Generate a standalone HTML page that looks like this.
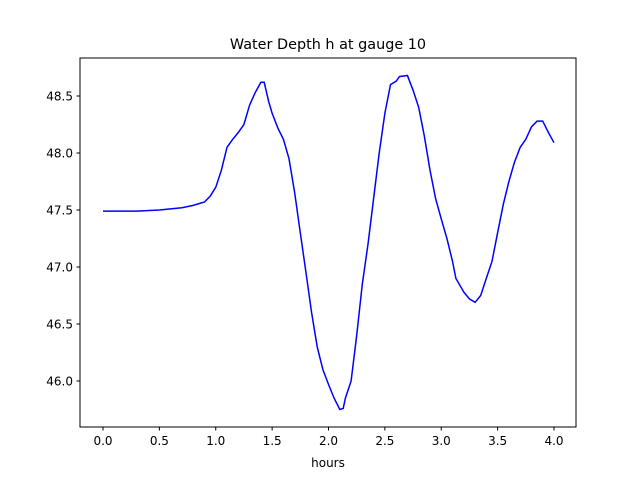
<!DOCTYPE html>
<html><head><meta charset="utf-8"><style>
body{margin:0;background:#fff}
svg{display:block;font-family:"DejaVu Sans","Liberation Sans",sans-serif}
</style></head><body>
<svg id="chart" width="640" height="480">
<rect width="640" height="480" fill="#fff"/>
<text x="328" y="49" text-anchor="middle" font-size="14.4">Water Depth h at gauge 10</text>
<g id="xt"></g>
<g id="yt"></g>
<path id="line" fill="none" stroke="#0000ff" stroke-width="1.5"/>
<rect x="80" y="58" width="496" height="369" fill="none" stroke="#000" stroke-width="1"/>
<text x="328" y="467" text-anchor="middle" font-size="12">hours</text>
</svg>
<script>
const hours=[0,0.3,0.5,0.7,0.8,0.9,0.95,1.0,1.05,1.1,1.15,1.2,1.25,1.3,1.35,1.4,1.43,1.47,1.5,1.55,1.6,1.65,1.7,1.75,1.8,1.85,1.9,1.95,2.0,2.05,2.1,2.13,2.15,2.2,2.25,2.3,2.35,2.4,2.45,2.5,2.55,2.6,2.63,2.7,2.75,2.8,2.85,2.9,2.95,3.0,3.05,3.1,3.13,3.2,3.25,3.3,3.35,3.4,3.45,3.5,3.55,3.6,3.65,3.7,3.75,3.8,3.85,3.9,3.95,4.0];
const depth=[47.49,47.49,47.50,47.52,47.54,47.57,47.62,47.70,47.85,48.05,48.12,48.18,48.25,48.42,48.53,48.62,48.62,48.45,48.35,48.22,48.12,47.95,47.65,47.3,46.95,46.6,46.3,46.1,45.97,45.85,45.75,45.76,45.85,46.0,46.4,46.85,47.2,47.6,48.0,48.35,48.6,48.63,48.67,48.68,48.55,48.4,48.15,47.85,47.6,47.42,47.25,47.05,46.9,46.78,46.72,46.69,46.75,46.9,47.05,47.3,47.55,47.75,47.92,48.05,48.12,48.23,48.28,48.28,48.18,48.09];
const xTicks=["0.0","0.5","1.0","1.5","2.0","2.5","3.0","3.5","4.0"];
const yTicks=["46.0","46.5","47.0","47.5","48.0","48.5"];
const NS="http://www.w3.org/2000/svg";
const sx=v=>103+v*112.75;
const sy=v=>96+(48.5-v)*114;
const xt=document.getElementById('xt'),yt=document.getElementById('yt');
xTicks.forEach(t=>{const x=sx(+t);
 const l=document.createElementNS(NS,'line');
 
 
 l.setAttribute('x1',x);l.setAttribute('x2',x);l.setAttribute('y1',427);l.setAttribute('y2',430.5);l.setAttribute('stroke','#000');xt.appendChild(l);
 const s=document.createElementNS(NS,'text');
 
 
 s.setAttribute('x',x);s.setAttribute('y',445);s.setAttribute('text-anchor','middle');s.setAttribute('font-size','12');s.textContent=t;xt.appendChild(s);});
yTicks.forEach(t=>{const y=sy(+t);
 const l=document.createElementNS(NS,'line');
 
 
 l.setAttribute('x1',76.5);l.setAttribute('x2',80);l.setAttribute('y1',y);l.setAttribute('y2',y);l.setAttribute('stroke','#000');yt.appendChild(l);
 const s=document.createElementNS(NS,'text');
 
 
 s.setAttribute('x',73);s.setAttribute('y',y+4.5);s.setAttribute('text-anchor','end');s.setAttribute('font-size','12');s.textContent=t;yt.appendChild(s);});
document.getElementById('line').setAttribute('d',hours.map((h,i)=>(i?'L':'M')+sx(h).toFixed(1)+','+sy(depth[i]).toFixed(1)).join(''));
</script>
</body></html>
